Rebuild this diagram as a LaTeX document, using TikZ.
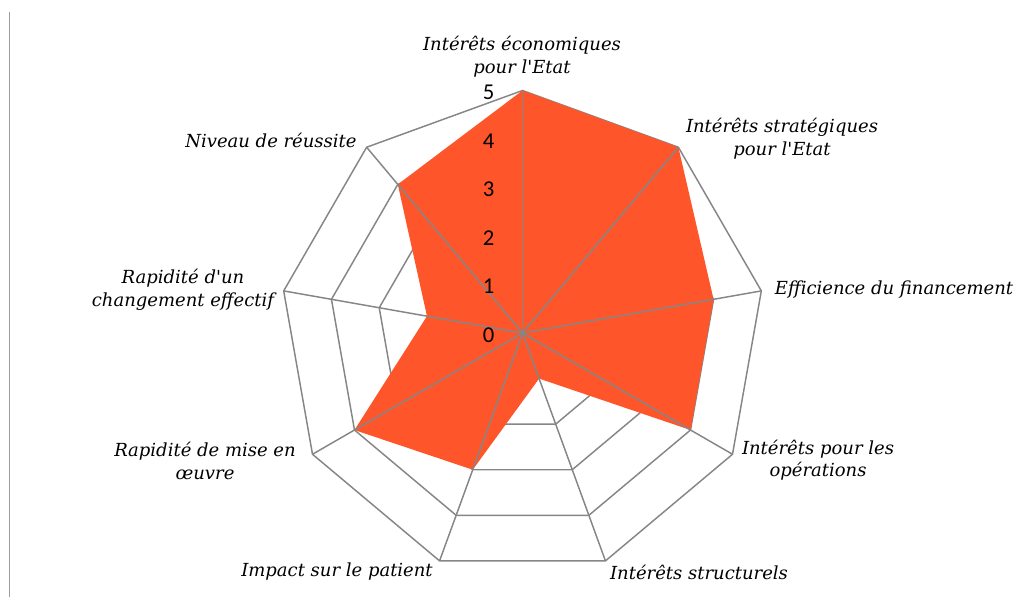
\documentclass[tikz,border=0pt]{standalone}
\usepackage{fontspec}
\newfontfamily\labelfont{DejaVu Serif}
\newfontfamily\tickfont{Carlito}
\usetikzlibrary{calc}
\definecolor{radarfill}{RGB}{255,85,42}
\definecolor{gridgray}{RGB}{134,134,134}
\tikzset{
	axislabel/.style={font=\labelfont\itshape\fontsize{13.5}{17}\selectfont, align=center, inner sep=0},
	ticklabel/.style={font=\tickfont\fontsize{17}{18}\selectfont, anchor=east, inner sep=0},
	gridline/.style={draw=gridgray, line width=1.1pt},
	frameline/.style={draw=gridgray!80, line width=1.3pt}
}

\begin{document}
\begin{tikzpicture}[x=0.75pt, y=-0.75pt]
	\useasboundingbox (0,0) rectangle (1024,597);
	\coordinate (c) at (522.5,333);
	
	% spoke ends and data points
	\foreach \v [count=\k from 0] in {5,5,4,4,1,3,4,2,4} {
		\coordinate (s\k) at ($(c)+({-90+40*\k}:242.5)$);
		\coordinate (d\k) at ($(c)+({-90+40*\k}:{48.5*\v})$);
	}
	
	% rings
	\foreach \r in {1,...,5} {
		\draw[gridline, line join=miter] ($(c)+(-90:{48.5*\r})$)
		\foreach \k in {1,...,8} { -- ($(c)+({-90+40*\k}:{48.5*\r})$) } -- cycle;
	}
	\fill[radarfill] (d0) -- (d1) -- (d2) -- (d3) -- (d4) -- (d5) -- (d6) -- (d7) -- (d8) -- cycle;
	\foreach \k in {0,...,8}
		\draw[gridline] (c) -- (s\k);
	
	% values
	\foreach \v in {0,...,5}
		\node[ticklabel] (t\v) at ($(c)+(-28,{2-48.5*\v})$) {\v};
	
	% categories
	\node[axislabel] (lab0) at (522,57) {Intérêts économiques\\pour l'Etat};
	\node[axislabel] (lab1) at (782,139) {Intérêts stratégiques\\pour l'Etat};
	\node[axislabel] (lab2) at (894,290) {Efficience du financement};
	\node[axislabel] (lab3) at (818,460) {Intérêts pour les\\opérations};
	\node[axislabel] (lab4) at (699,572) {Intérêts structurels};
	\node[axislabel] (lab5) at (337,572) {Impact sur le patient};
	\node[axislabel] (lab6) at (205,461) {Rapidité de mise en\\œuvre};
	\node[axislabel] (lab7) at (183,290) {Rapidité d'un\\changement effectif};
	\node[axislabel] (lab8) at (271,140) {Niveau de réussite};
	
	\draw[frameline] (9.5,12) -- (9.5,597);
\end{tikzpicture}
\end{document}
